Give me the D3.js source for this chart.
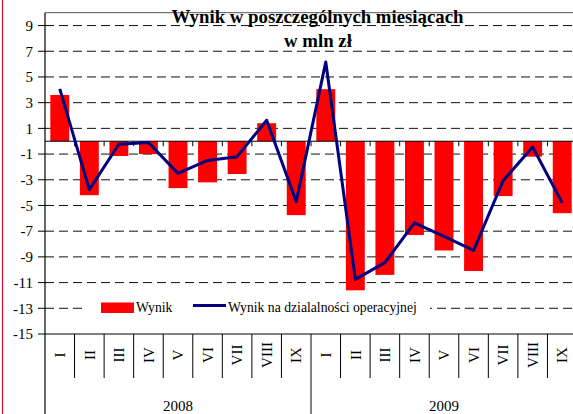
<!DOCTYPE html>
<html>
<head>
<meta charset="utf-8">
<script src="https://cdn.jsdelivr.net/npm/d3@7"></script>
<style>
  html, body { margin: 0; padding: 0; background: #fff; }
  svg { display: block; }
</style>
</head>
<body>
<svg id="chart" width="573" height="414"></svg>
<script>
const title1 = "Wynik w poszczególnych miesiącach";
const title2 = "w mln zł";
const months = ["I","II","III","IV","V","VI","VII","VIII","IX"];
const years = ["2008","2009"];
const wynik = [3.6,-4.2,-1.15,-1.0,-3.65,-3.2,-2.55,1.4,-5.75,
               4.05,-11.6,-10.4,-7.3,-8.5,-10.1,-4.27,-1.2,-5.6];
const operacyjny = [4.07,-3.77,-0.24,-0.1,-2.5,-1.5,-1.2,1.63,-4.7,
                    6.17,-10.75,-9.45,-6.35,-7.4,-8.5,-3.07,-0.45,-4.8];
const yTicks = [9,7,5,3,1,-1,-3,-5,-7,-9,-11,-13,-15];
const seriesNames = ["Wynik", "Wynik na dzialalności operacyjnej"];

const FONT = '"Liberation Serif"';
const categories = [];
years.forEach(yr => months.forEach(m => categories.push({key: yr + "-" + m, month: m, year: yr})));

const svg = d3.select("#chart");
const L = 45, R = 577, T = 12.7, B = 334;

const x = d3.scaleBand().domain(categories.map(d => d.key)).range([L, R]).padding(0);
const y = d3.scaleLinear().domain([-15, 10]).range([B, T]);
const bw = x.bandwidth();

// left red border
svg.append("line").attr("x1", 2.5).attr("x2", 2.5).attr("y1", 0).attr("y2", 414)
  .attr("stroke", "#c8103c").attr("stroke-width", 1.2);

// gridlines
const gridTicks = yTicks.filter(t => t > -15);
svg.append("g").selectAll("line").data(gridTicks).join("line")
  .attr("x1", L).attr("x2", R)
  .attr("y1", d => y(d)).attr("y2", d => y(d))
  .attr("stroke", "#111").attr("stroke-width", 1)
  .attr("stroke-dasharray", "9,5");

// top border
svg.append("line").attr("x1", L).attr("x2", R).attr("y1", T).attr("y2", T)
  .attr("stroke", "#555").attr("stroke-width", 1);

// y tick marks and labels
svg.append("g").selectAll("line").data(yTicks).join("line")
  .attr("x1", L - 7).attr("x2", L)
  .attr("y1", d => y(d)).attr("y2", d => y(d))
  .attr("stroke", "#000").attr("stroke-width", 1);
svg.append("g").selectAll("text").data(yTicks).join("text")
  .style("font-family", FONT)
  .attr("x", 33).attr("y", d => y(d)).attr("dy", "0.35em")
  .attr("text-anchor", "end").attr("font-size", 15)
  .text(d => d);

// bars
svg.append("g").selectAll("rect").data(categories).join("rect")
  .attr("x", d => x(d.key) + bw * 0.18)
  .attr("width", bw * 0.64)
  .attr("y", (d, i) => Math.min(y(0), y(wynik[i])))
  .attr("height", (d, i) => Math.abs(y(wynik[i]) - y(0)))
  .attr("fill", "#ff0000");

// zero line and its ticks
svg.append("line").attr("x1", L).attr("x2", R).attr("y1", y(0)).attr("y2", y(0))
  .attr("stroke", "#000").attr("stroke-width", 1);
svg.append("g").selectAll("line").data(categories.slice(1)).join("line")
  .attr("x1", d => x(d.key)).attr("x2", d => x(d.key))
  .attr("y1", y(0)).attr("y2", y(0) + 5)
  .attr("stroke", "#000").attr("stroke-width", 1);

// line series
const lineGen = d3.line()
  .x((d, i) => x(categories[i].key) + bw / 2)
  .y(d => y(d));
svg.append("path").datum(operacyjny)
  .attr("d", lineGen)
  .attr("fill", "none").attr("stroke", "#000080").attr("stroke-width", 3)
  .attr("stroke-linejoin", "round");

// legend (white box interrupting gridline)
const lg = svg.append("g");
lg.append("rect").attr("x", 86).attr("y", 297).attr("width", 344).attr("height", 21).attr("fill", "#fff");
lg.append("rect").attr("x", 101).attr("y", 302.5).attr("width", 33).attr("height", 10.5).attr("fill", "#ff0000");
lg.append("text").style("font-family", FONT).attr("x", 136).attr("y", 312).attr("font-size", 13.7).text(seriesNames[0]);
lg.append("line").attr("x1", 193).attr("x2", 226).attr("y1", 305.5).attr("y2", 305.5)
  .attr("stroke", "#000080").attr("stroke-width", 3);
lg.append("text").style("font-family", FONT).attr("x", 228).attr("y", 312).attr("font-size", 13.7).text(seriesNames[1]);

// x axis bottom line
svg.append("line").attr("x1", L).attr("x2", R).attr("y1", B).attr("y2", B)
  .attr("stroke", "#000").attr("stroke-width", 1.2);

// category separators
svg.append("g").selectAll("line").data(categories.slice(1)).join("line")
  .attr("x1", d => x(d.key)).attr("x2", d => x(d.key))
  .attr("y1", B).attr("y2", d => d.month === months[0] ? 414 : 378)
  .attr("stroke", "#000").attr("stroke-width", 1);

// left axis
svg.append("line").attr("x1", L).attr("x2", L).attr("y1", T).attr("y2", 414)
  .attr("stroke", "#000").attr("stroke-width", 1.2);

// month labels rotated
svg.append("g").selectAll("text").data(categories).join("text")
  .style("font-family", FONT)
  .attr("transform", d => `translate(${x(d.key) + bw / 2},355) rotate(-90)`)
  .attr("text-anchor", "middle").attr("dy", "0.35em")
  .attr("font-size", 15)
  .text(d => d.month);

// year labels
svg.append("g").selectAll("text").data(years).join("text")
  .style("font-family", FONT)
  .attr("x", yr => {
    const ks = categories.filter(c => c.year === yr);
    return (x(ks[0].key) + x(ks[ks.length - 1].key) + bw) / 2;
  })
  .attr("y", 411).attr("text-anchor", "middle").attr("font-size", 15)
  .text(d => d);

// title
svg.append("text").style("font-family", FONT).attr("x", 317.5).attr("y", 23).attr("text-anchor", "middle")
  .attr("font-size", 18.8).attr("font-weight", "bold").text(title1);
svg.append("text").style("font-family", FONT).attr("x", 318).attr("y", 47).attr("text-anchor", "middle")
  .attr("font-size", 18.8).attr("font-weight", "bold").text(title2);
</script>
</body>
</html>
